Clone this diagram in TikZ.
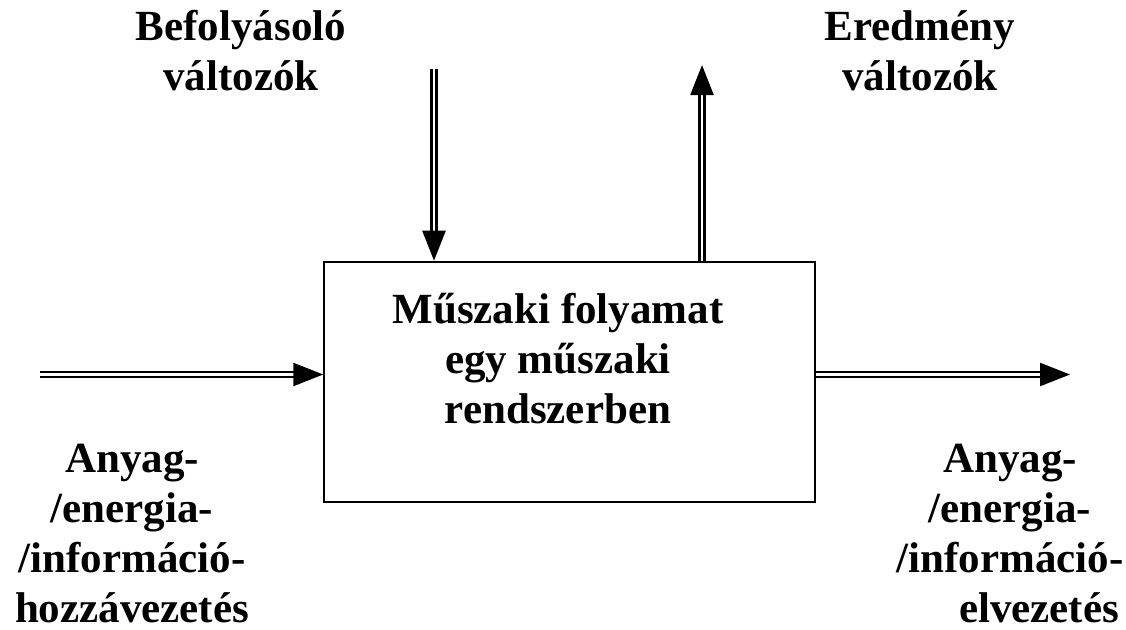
\documentclass[tikz,border=0pt]{standalone}
\usepackage{fontspec}
\setmainfont{Liberation Serif}
\usetikzlibrary{arrows.meta}
\tikzset{
  lbl/.style={font=\bfseries\fontsize{43}{50}\selectfont, align=center, inner sep=0pt, anchor=base},
  dbl/.style={draw=black, line width=2.4pt, double=white, double distance=2.4pt, -{Triangle[length=30pt,width=23pt]}},
  sysbox/.style={draw=black, line width=2pt, minimum width=491pt, minimum height=240pt, inner sep=0pt}
}
\begin{document}
\begin{tikzpicture}[x=1pt,y=-1pt]
\useasboundingbox (0,0) rectangle (1126,629);
\node[sysbox] (box) at (569.75,381.7) {};
\node[lbl] (boxtxt) at (558,423) {Műszaki folyamat\\egy műszaki\\rendszerben};
\node[lbl] (infl) at (241,90) {Befolyásoló\\változók};
\node[lbl] (res) at (920,90) {Eredmény\\változók};
\node[lbl] (inp) at (132,622) {Anyag-\\/energia-\\/információ-\\hozzávezetés};
\node[lbl] (outp) at (1010,622) {Anyag-\\/energia-\\/információ-\\\hspace*{58pt}elvezetés};
\coordinate (infltop) at (434,69);
\coordinate (restip) at (702,65);
\coordinate (instart) at (40,374.5);
\coordinate (outtip) at (1070,374.5);
\draw[dbl] (infltop) -- (infltop |- box.north);
\draw[dbl] (restip |- box.north) -- (restip);
\draw[dbl] (instart) -- (instart -| box.west);
\draw[dbl] (outtip -| box.east) -- (outtip);
\end{tikzpicture}
\end{document}
